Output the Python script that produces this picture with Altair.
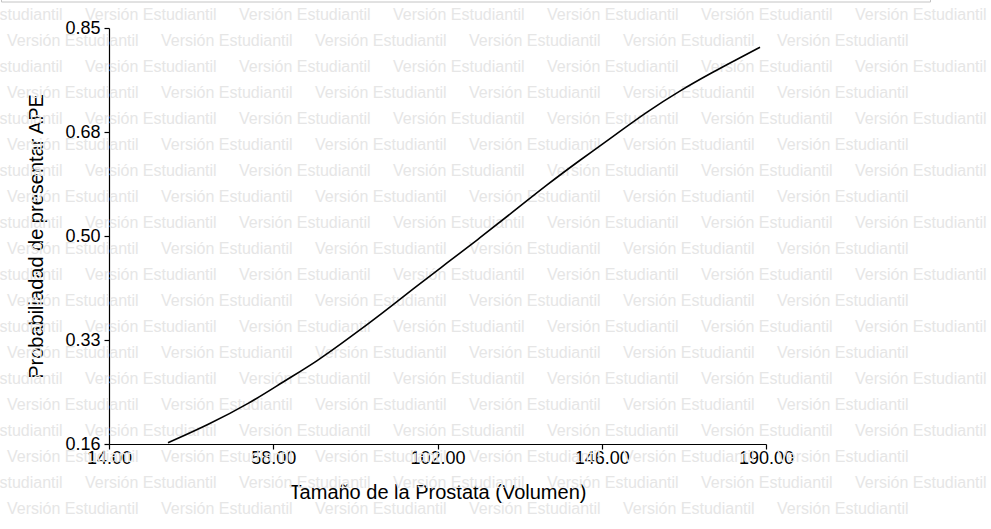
import altair as alt
import pandas as pd

# Curve
volumen = [29.8, 40.5, 51.8, 60.6, 69.7, 78.6, 87.4, 95.4, 104.5, 113.4,
           122.2, 131.3, 140.2, 149.0, 158.1, 166.9, 175.8, 182.2, 188.4]
prob = [0.162, 0.1915, 0.228, 0.263, 0.297, 0.337, 0.378, 0.417, 0.460, 0.502,
        0.545, 0.590, 0.631, 0.670, 0.711, 0.746, 0.777, 0.798, 0.818]

x_ticks = [14, 58, 102, 146, 190]
y_ticks = [0.16, 0.3325, 0.505, 0.6775, 0.85]
y_tick_labels = ["0.16", "0.33", "0.50", "0.68", "0.85"]

x_title = "Tamaño de la Prostata (Volumen)"
y_title = "Probabiliadad de presentar APE"
watermark_text = "Versión Estudiantil"

FONT = "Liberation Sans, Arial, Helvetica, sans-serif"
W, H = 657, 416
OX, OY = 109, 28

df = pd.DataFrame({"v": volumen, "p": prob})

# watermark grid (decoration, pixel positions relative to plot origin)
wm_rows = []
for r in range(20):
    yy = 15 + 26 * r - OY
    if r % 2 == 0:
        xs = [-69 + 154 * k for k in range(7)]
    else:
        xs = [7 + 154 * k for k in range(6)]
    for xx in xs:
        wm_rows.append({"wx": xx - OX, "wy": yy, "t": watermark_text})
wm = pd.DataFrame(wm_rows)

watermark = alt.Chart(wm).mark_text(
    align="left", baseline="middle", font=FONT, fontSize=16, color="#e6e6e6"
).encode(
    x=alt.X("wx:Q", scale=None, axis=None),
    y=alt.Y("wy:Q", scale=None, axis=None),
    text="t:N",
)

border = alt.Chart(pd.DataFrame({"a": [0]})).mark_rule(color="#c4c4c4", strokeWidth=1).encode(
    x=alt.value(1.5 - OX), x2=alt.value(930.5 - OX), y=alt.value(2 - OY)
)
border_l = alt.Chart(pd.DataFrame({"a": [0]})).mark_rule(color="#c4c4c4", strokeWidth=1).encode(
    x=alt.value(1.5 - OX), y=alt.value(-OY), y2=alt.value(2 - OY)
)
border_r = alt.Chart(pd.DataFrame({"a": [0]})).mark_rule(color="#c4c4c4", strokeWidth=1).encode(
    x=alt.value(930.5 - OX), y=alt.value(-OY), y2=alt.value(2 - OY)
)

label_expr = "[" + ",".join("'%s'" % s for s in y_tick_labels) + "][round((datum.value-0.16)/0.1725)]"

line = alt.Chart(df).mark_line(color="black", strokeWidth=1.6, interpolate="basis").encode(
    x=alt.X("v:Q", scale=alt.Scale(domain=[14, 190], nice=False, zero=False),
            axis=alt.Axis(values=x_ticks, format=".2f", title=x_title,
                          labelFlush=False, labelOverlap=False, labelPadding=0,
                          titlePadding=15)),
    y=alt.Y("p:Q", scale=alt.Scale(domain=[0.16, 0.85], nice=False, zero=False),
            axis=alt.Axis(values=y_ticks, labelExpr=label_expr, title=y_title,
                          labelOverlap=False, labelPadding=4, titlePadding=18)),
)

chart = alt.layer(watermark, border, border_l, border_r, line).resolve_scale(
    x="independent", y="independent"
).properties(
    width=W, height=H,
    padding={"left": OX, "top": OY, "right": 991 - OX - W, "bottom": 529 - OY - H},
    autosize=alt.AutoSizeParams(type="none"),
    background="white",
).configure_view(stroke=None).configure_axis(
    grid=False, domainColor="black", domainWidth=1.2, tickColor="black", tickSize=5,
    tickWidth=1.2, labelFont=FONT, labelFontSize=18, labelColor="black",
    titleFont=FONT, titleFontSize=20, titleFontWeight="normal", titleColor="black",
    labelBound=False,
)

chart.save("out.html", embed_options={"renderer": "svg", "actions": False})
